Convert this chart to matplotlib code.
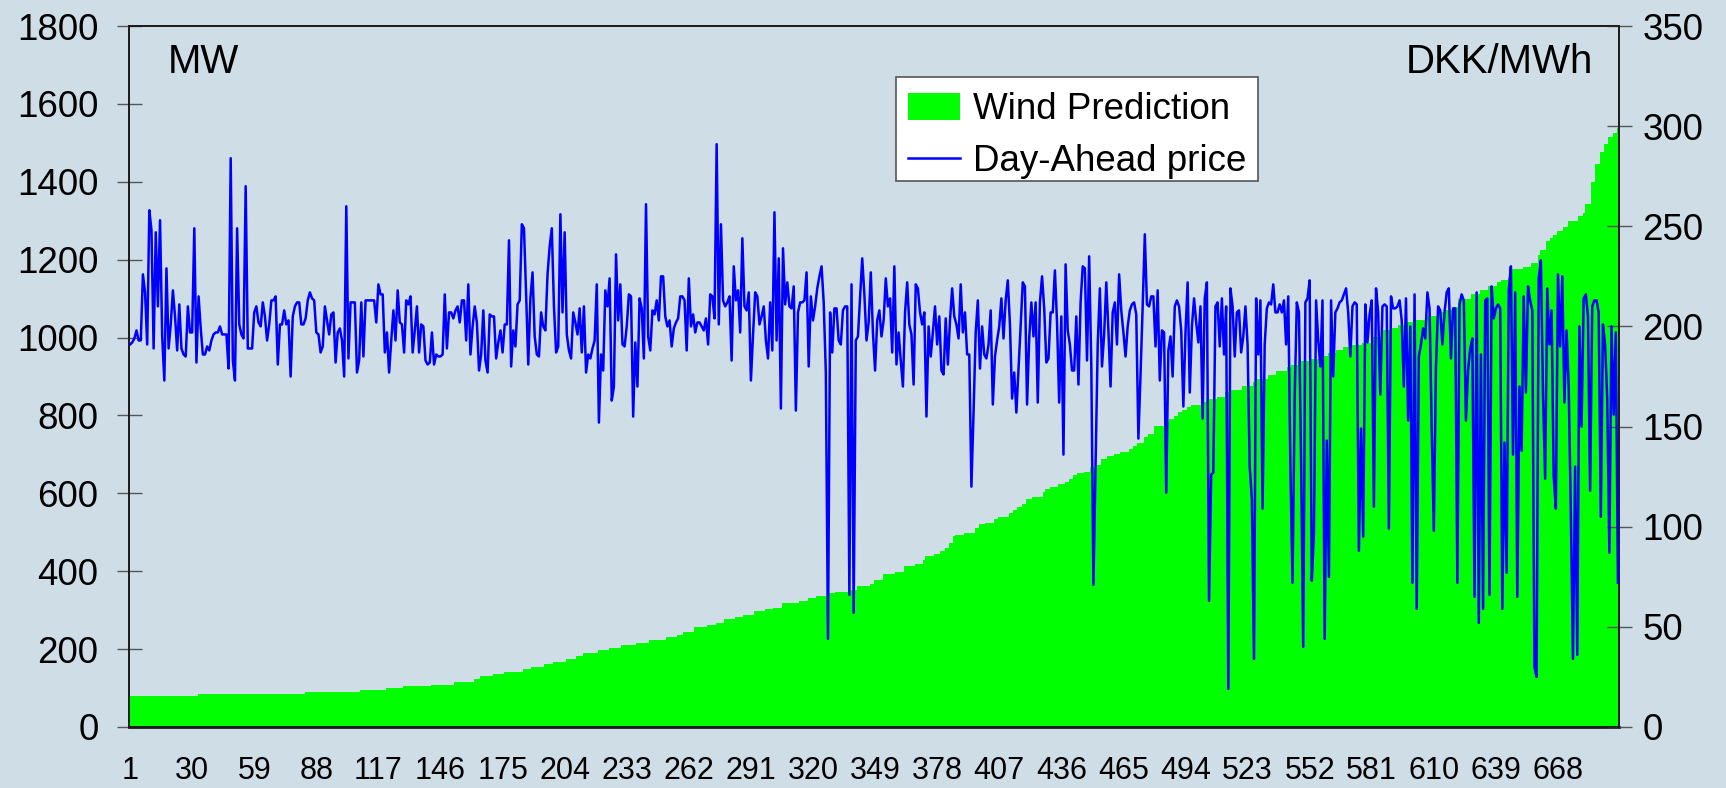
import numpy as np
import matplotlib
matplotlib.use("Agg")
import matplotlib.pyplot as plt
from matplotlib.patches import Patch, Rectangle
from matplotlib.lines import Line2D

plt.rcParams['font.family'] = ['Liberation Sans', 'DejaVu Sans']

# ---------------- data ----------------
n_hours = 696
tick_step = 29

# Wind prediction (MW), sorted ascending: level of each flat run and last hour of that run
wind_levels = [80, 85, 90, 95.5, 99.7, 104, 109, 115, 122, 130,
               135, 140, 150, 155, 161, 166, 174, 182, 189, 197,
               204, 210, 216, 224, 231, 237, 245, 256, 262, 268,
               277, 282, 287, 298, 303, 305, 319, 324, 331, 337,
               344, 347, 352, 361, 368, 377, 392, 399, 413, 418,
               428, 438, 443, 452, 460, 473, 491, 494, 499, 512,
               520, 525, 534, 539, 549, 557, 564, 572, 585, 590,
               604, 612, 617, 625, 630, 637, 646, 651, 656, 667,
               672, 688, 696, 702, 707, 714, 721, 728, 745, 753,
               774, 782, 792, 798, 808, 814, 822, 826, 834, 842,
               847, 860, 866, 876, 885, 893, 903, 913, 924, 929,
               939, 945, 952, 960, 969, 976, 981, 986, 1002, 1020,
               1025, 1031, 1039, 1044, 1055, 1065, 1070, 1078, 1100, 1112,
               1123, 1133, 1142, 1149, 1152, 1175, 1180, 1191, 1212, 1224,
               1249, 1256, 1264, 1273, 1283, 1300, 1311, 1321, 1343, 1400,
               1445, 1476, 1497, 1514, 1526, 1537]
wind_run_ends = [32, 82, 108, 120, 128, 141, 152, 161, 164, 170,
                 175, 184, 188, 194, 198, 204, 209, 212, 219, 224,
                 230, 237, 243, 251, 256, 259, 264, 270, 274, 278,
                 283, 287, 292, 297, 301, 305, 313, 317, 321, 327,
                 330, 337, 340, 346, 348, 352, 358, 362, 367, 371,
                 372, 376, 379, 381, 383, 385, 386, 390, 395, 397,
                 400, 404, 406, 411, 413, 415, 417, 419, 422, 427,
                 428, 430, 434, 437, 439, 441, 443, 446, 449, 451,
                 454, 457, 460, 463, 467, 469, 471, 474, 476, 479,
                 484, 486, 488, 490, 492, 494, 496, 501, 503, 508,
                 512, 514, 520, 525, 526, 532, 536, 541, 543, 546,
                 551, 556, 560, 564, 567, 571, 576, 581, 585, 590,
                 593, 596, 600, 606, 611, 615, 619, 621, 627, 631,
                 635, 639, 641, 644, 645, 651, 655, 658, 659, 662,
                 664, 665, 667, 670, 672, 677, 679, 680, 683, 685,
                 687, 689, 691, 693, 695, 696]

# Day-ahead price (DKK/MWh), hour by hour in six blocks
price_h001_120 = [191, 192, 194, 198, 193, 193, 226, 217, 191, 258,
                  248, 189, 247, 210, 253, 195, 173, 229, 189, 201,
                  218, 205, 188, 211, 189, 186, 185, 210, 197, 197,
                  249, 182, 215, 199, 186, 186, 190, 188, 193, 196,
                  197, 197, 200, 196, 196, 196, 179, 284, 183, 173,
                  249, 201, 196, 194, 270, 189, 189, 189, 207, 210,
                  202, 200, 212, 205, 193, 201, 213, 213, 215, 181,
                  201, 201, 208, 201, 203, 175, 205, 210, 212, 212,
                  201, 201, 204, 213, 217, 214, 213, 197, 196, 187,
                  190, 210, 203, 196, 206, 207, 182, 197, 199, 193,
                  175, 260, 184, 212, 212, 212, 177, 183, 212, 185,
                  213, 213, 213, 213, 213, 202, 221, 216, 216, 187]
price_h121_239 = [197, 177, 193, 208, 193, 218, 202, 201, 187, 213,
                  211, 215, 187, 198, 210, 187, 201, 200, 183, 181,
                  182, 197, 181, 186, 185, 185, 186, 216, 189, 207,
                  207, 204, 208, 210, 202, 213, 213, 193, 221, 186,
                  200, 210, 202, 178, 186, 208, 183, 177, 206, 205,
                  205, 184, 192, 198, 187, 201, 201, 243, 180, 198,
                  190, 211, 213, 251, 249, 216, 181, 214, 227, 195,
                  186, 185, 207, 200, 198, 226, 240, 249, 210, 187,
                  190, 256, 207, 247, 196, 188, 184, 207, 202, 196,
                  209, 187, 210, 177, 186, 184, 189, 193, 221, 152,
                  186, 178, 218, 210, 224, 163, 170, 236, 203, 221,
                  191, 190, 200, 216, 215, 155, 192, 170, 214]
price_h240_358 = [209, 184, 261, 195, 188, 208, 206, 213, 203, 225,
                  225, 205, 200, 203, 190, 199, 202, 204, 215, 215,
                  213, 188, 224, 200, 206, 197, 202, 202, 200, 198,
                  204, 191, 216, 215, 204, 291, 201, 251, 213, 210,
                  212, 215, 183, 230, 213, 218, 197, 244, 210, 208,
                  217, 173, 196, 217, 215, 201, 205, 210, 193, 184,
                  212, 188, 257, 193, 234, 159, 239, 211, 222, 210,
                  209, 220, 158, 207, 212, 212, 213, 227, 180, 215,
                  203, 210, 219, 225, 230, 212, 177, 44, 207, 187,
                  209, 209, 193, 191, 208, 210, 210, 66, 221, 57,
                  193, 195, 215, 234, 216, 193, 202, 227, 197, 178,
                  203, 208, 195, 203, 224, 210, 214, 187, 230]
price_h359_477 = [181, 197, 183, 170, 207, 222, 201, 196, 171, 221,
                  219, 207, 201, 207, 155, 200, 185, 197, 210, 191,
                  205, 178, 176, 204, 181, 203, 219, 205, 201, 194,
                  221, 197, 207, 186, 186, 120, 157, 197, 213, 179,
                  200, 186, 184, 191, 208, 161, 185, 193, 200, 214,
                  194, 213, 223, 201, 164, 177, 157, 179, 202, 222,
                  220, 161, 194, 212, 195, 212, 162, 212, 225, 209,
                  182, 184, 207, 207, 228, 202, 162, 205, 136, 231,
                  198, 191, 178, 178, 205, 171, 212, 230, 229, 183,
                  235, 181, 71, 130, 191, 219, 180, 196, 222, 198,
                  170, 207, 212, 191, 226, 208, 197, 185, 200, 208,
                  211, 212, 206, 144, 176, 210, 246, 211, 210]
price_h478_596 = [215, 215, 190, 218, 173, 198, 197, 117, 188, 195,
                  175, 210, 213, 210, 198, 160, 197, 222, 167, 200,
                  214, 202, 192, 210, 154, 214, 222, 63, 126, 127,
                  210, 212, 190, 214, 186, 210, 19, 219, 210, 185,
                  207, 208, 187, 195, 210, 191, 130, 114, 34, 214,
                  186, 213, 109, 191, 209, 212, 211, 221, 207, 207,
                  211, 207, 213, 191, 215, 130, 72, 164, 212, 207,
                  132, 40, 212, 214, 223, 73, 97, 213, 193, 180,
                  213, 44, 143, 75, 213, 175, 207, 209, 212, 213,
                  216, 219, 207, 185, 210, 212, 211, 88, 149, 95,
                  211, 192, 206, 213, 110, 219, 207, 166, 210, 211,
                  210, 99, 215, 209, 209, 210, 213, 203, 170]
price_h597_696 = [214, 153, 200, 72, 216, 59, 185, 191, 199, 194,
                  217, 209, 150, 98, 180, 210, 208, 191, 207, 217,
                  219, 184, 209, 209, 72, 211, 216, 213, 153, 178,
                  189, 194, 65, 217, 52, 186, 59, 213, 214, 66,
                  220, 204, 209, 211, 209, 59, 142, 77, 218, 230,
                  136, 217, 65, 170, 138, 215, 167, 220, 213, 208,
                  30, 25, 224, 233, 166, 124, 219, 191, 208, 125,
                  109, 226, 190, 225, 162, 198, 170, 107, 34, 130,
                  36, 200, 150, 214, 216, 205, 118, 210, 213, 213,
                  207, 105, 201, 191, 164, 87, 200, 156, 197, 72]

left_ticks = list(range(0, 1801, 200))
right_ticks = list(range(0, 351, 50))
label_left = "MW"
label_right = "DKK/MWh"
series_names = ["Wind Prediction", "Day-Ahead price"]

# ---------------- build series ----------------
run_lengths = np.diff(np.concatenate([[0], wind_run_ends]))
wind = np.repeat(wind_levels, run_lengths)
price = np.array(price_h001_120 + price_h121_239 + price_h240_358 +
                 price_h359_477 + price_h478_596 + price_h597_696, dtype=float)
x_wind = np.arange(1, len(wind) + 1)
x_price = np.arange(1, len(price) + 1)

# ---------------- figure ----------------
bg = '#cfdde6'
green = '#00ff00'
blue = '#0000ff'
W, H = 1726, 788
fig = plt.figure(figsize=(W / 100, H / 100), dpi=100, facecolor=bg)
ax = fig.add_axes([129 / W, 1 - 727 / H, (1619 - 129) / W, (727 - 26) / H])
ax.set_facecolor(bg)

ax.bar(x_wind, wind, width=1.0, color=green, edgecolor='none', linewidth=0, zorder=2)
ax.set_xlim(0.5, n_hours + 0.5)
ax.set_ylim(0, 1800)
ax.set_yticks(left_ticks)
ax.set_xticks(np.arange(1, n_hours + 1, tick_step))
ax.tick_params(axis='x', length=0, pad=21, labelsize=22)
ax.tick_params(axis='y', direction='inout', length=18, width=1.0, color='#555555',
               pad=13, labelsize=26.5)

ax2 = ax.twinx()
ax2.plot(x_price, price, color=blue, linewidth=1.8, zorder=3)
ax2.set_ylim(0, 350)
ax2.set_yticks(right_ticks)
ax2.tick_params(axis='y', direction='inout', length=18, width=1.0, color='#555555',
                pad=8, labelsize=26.5)

for a in (ax, ax2):
    for s in a.spines.values():
        s.set_color('#1a1a1a')
        s.set_linewidth(1.2)
ax.spines['bottom'].set_linewidth(2.0)

ax.text(168 / W, 1 - 73 / H, label_left, transform=fig.transFigure,
        fontsize=29, ha='left', va='baseline')
ax.text(1593 / W, 1 - 73 / H, label_right, transform=fig.transFigure,
        fontsize=29, ha='right', va='baseline')

# legend box (frame drawn separately so the rows sit like in the original)
frame = Rectangle((896 / W, 1 - 181 / H), (1258 - 896) / W, (181 - 77) / H,
                  transform=fig.transFigure, facecolor='white', edgecolor='#555555',
                  linewidth=1.2, zorder=4)
fig.patches.append(frame)
handles = [Patch(facecolor=green, edgecolor='none'),
           Line2D([], [], color=blue, linewidth=1.8)]
leg = fig.legend(handles, series_names, loc='upper left',
                 bbox_to_anchor=(900 / W, 1 - 84 / H), bbox_transform=fig.transFigure,
                 fontsize=26.5, frameon=False,
                 borderpad=0.22, handlelength=1.42, handleheight=0.76,
                 handletextpad=0.33, labelspacing=0.47, borderaxespad=0)
leg.set_zorder(6)

fig.savefig('out.png', dpi=100, facecolor=bg)
